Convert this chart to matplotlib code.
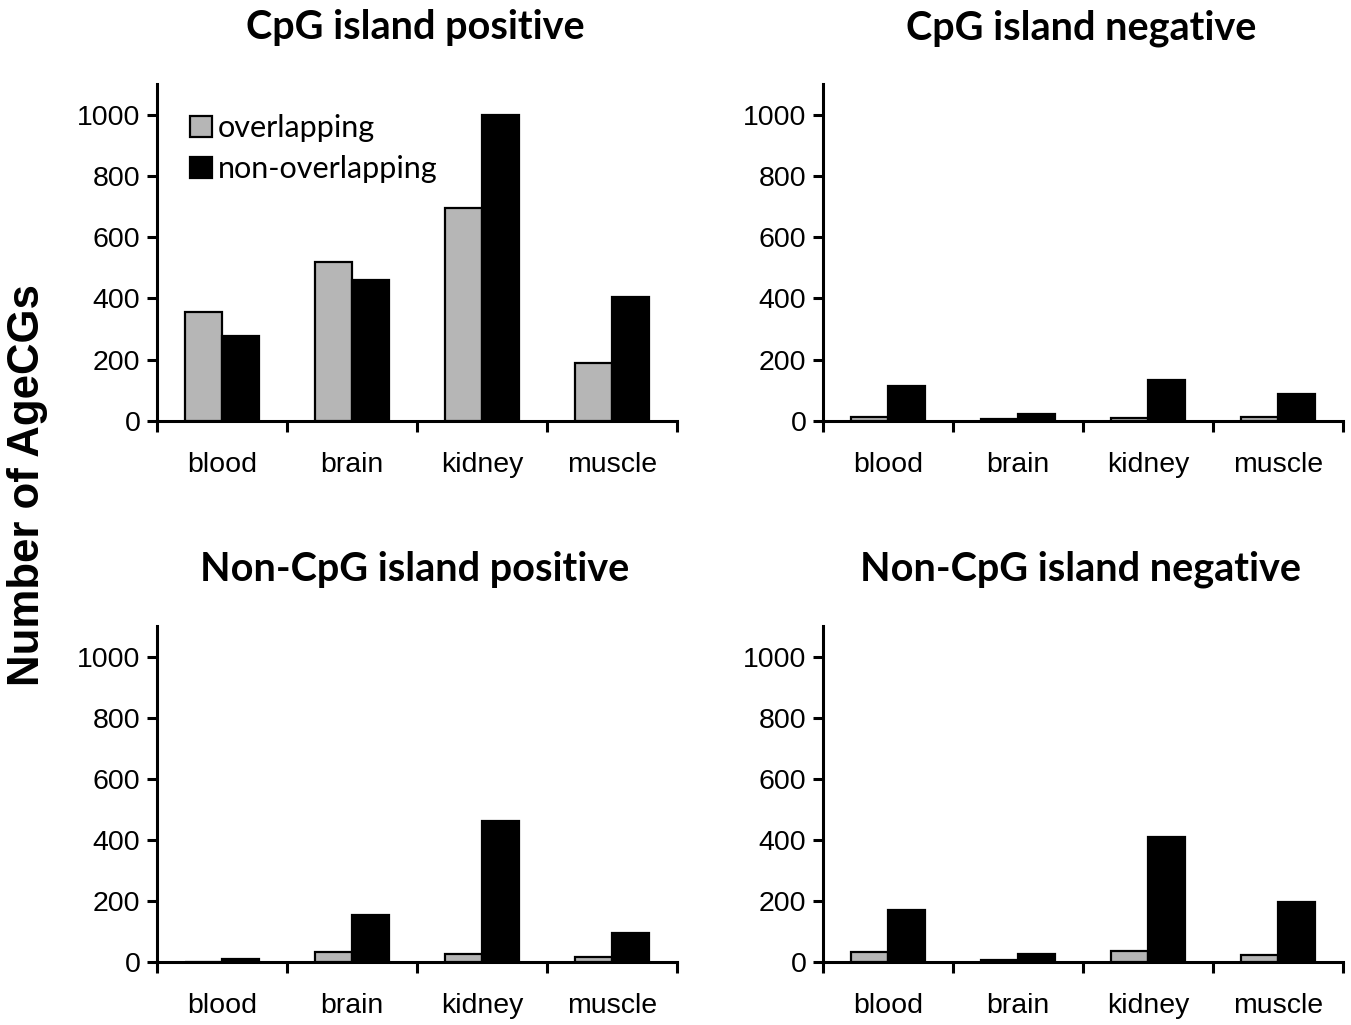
import matplotlib
matplotlib.use("Agg")
import matplotlib.pyplot as plt
from matplotlib.patches import Rectangle
import numpy as np

tissues = ["blood", "brain", "kidney", "muscle"]
titles = ["CpG island positive", "CpG island negative",
          "Non-CpG island positive", "Non-CpG island negative"]
series_names = ["overlapping", "non-overlapping"]

cgi_pos_overlap = [356, 519, 695, 189]
cgi_pos_nonoverlap = [279, 461, 1000, 404]
cgi_neg_overlap = [13, 6, 10, 13]
cgi_neg_nonoverlap = [113, 22, 135, 88]
noncgi_pos_overlap = [0, 33, 26, 16]
noncgi_pos_nonoverlap = [10, 153, 462, 96]
noncgi_neg_overlap = [33, 8, 35, 22]
noncgi_neg_nonoverlap = [170, 27, 408, 197]

panels = [
    (cgi_pos_overlap, cgi_pos_nonoverlap),
    (cgi_neg_overlap, cgi_neg_nonoverlap),
    (noncgi_pos_overlap, noncgi_pos_nonoverlap),
    (noncgi_neg_overlap, noncgi_neg_nonoverlap),
]

W, H = 1351, 1025
fig = plt.figure(figsize=(W / 100, H / 100), dpi=100)

def px_axes(left, top, right, bottom):
    return fig.add_axes([left / W, 1 - bottom / H, (right - left) / W, (bottom - top) / H])

boxes = [(157, 84, 677, 421), (823, 84, 1343, 421),
         (157, 626, 677, 962), (823, 626, 1343, 962)]
title_y = [28, 28, 569, 569]

gray = "#b6b6b6"
bw = 0.285
tick_font = "Liberation Sans"
title_font = "Lato"

for i, (ov, nov) in enumerate(panels):
    ax = px_axes(*boxes[i])
    x = np.arange(len(tissues))
    ax.bar(x - bw / 2, ov, width=bw, color=gray, edgecolor="black", linewidth=1.6, zorder=3)
    ax.bar(x + bw / 2, nov, width=bw, color="black", edgecolor="black", linewidth=1.6, zorder=3)
    ax.set_xlim(-0.5, len(tissues) - 0.5)
    ax.set_ylim(0, 1100)
    ax.spines["top"].set_visible(False)
    ax.spines["right"].set_visible(False)
    for s in ("left", "bottom"):
        ax.spines[s].set_linewidth(2.2)
    ax.set_yticks([0, 200, 400, 600, 800, 1000])
    ax.tick_params(axis="y", direction="out", length=7, width=2.2, pad=5,
                   labelsize=20.5)
    ax.set_xticks(np.arange(len(tissues) + 1) - 0.5)
    ax.set_xticklabels([])
    ax.tick_params(axis="x", which="major", direction="out", length=8, width=2.2)
    ax.set_xticks(x, minor=True)
    ax.set_xticklabels(tissues, minor=True)
    ax.tick_params(axis="x", which="minor", length=0, pad=22, labelsize=20.5)
    for lab in ax.get_yticklabels() + ax.get_xticklabels(minor=True):
        lab.set_fontfamily(tick_font)
    l, t, r, b = boxes[i]
    fig.text(((l + r) / 2 - 2) / W, 1 - title_y[i] / H, titles[i], ha="center", va="center",
             fontsize=28.5, fontweight="bold", family=title_font)

    if i == 0:
        h1 = Rectangle((0, 0), 1, 1, facecolor=gray, edgecolor="black", linewidth=1.6)
        h2 = Rectangle((0, 0), 1, 1, facecolor="black", edgecolor="black", linewidth=1.6)
        leg = ax.legend([h1, h2], series_names, loc="upper left",
                        bbox_to_anchor=(0.064, 0.91), frameon=False,
                        prop={"family": title_font, "size": 22},
                        handlelength=0.7, handleheight=0.65, handletextpad=0.2,
                        labelspacing=0.42, borderaxespad=0.0, borderpad=0.0)

fig.text(28 / W, 1 - 485 / H, "Number of AgeCGs", rotation=90, ha="center", va="center",
         fontsize=31.5, fontweight="bold", family="Liberation Sans")

fig.savefig("out.png", dpi=100, facecolor="white")
